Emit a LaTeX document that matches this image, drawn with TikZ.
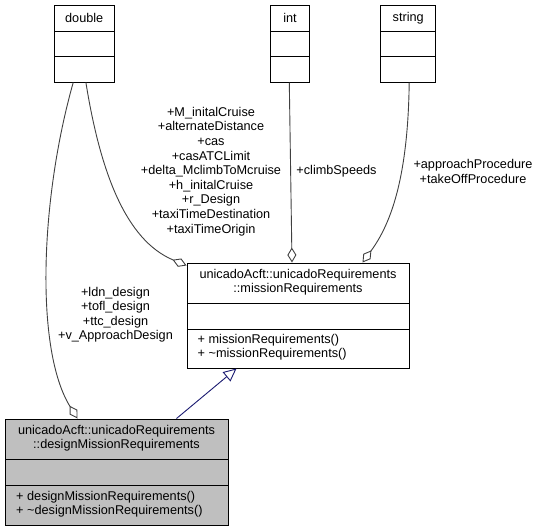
\documentclass[tikz,border=0pt]{standalone}
\usepackage{fontspec}
\setmainfont{Liberation Sans}
\usetikzlibrary{arrows.meta}
\definecolor{edgegray}{HTML}{404040}
\definecolor{inhblue}{HTML}{191970}
\definecolor{boxgray}{HTML}{BFBFBF}
\newcommand\dfont{\fontsize{12.7}{14.3}\selectfont}
\newcommand\lfont{\fontsize{12.7}{14.6}\selectfont}
\begin{document}
\begin{tikzpicture}[x=1pt,y=-1pt,
  box/.style={draw=black, line width=1pt, inner sep=0pt, fill=white},
  sep/.style={draw=black, line width=1pt},
  ttl/.style={font=\dfont, align=center, inner sep=0pt},
  lbl/.style={font=\lfont, align=center, inner sep=0pt},
  mth/.style={font=\dfont, align=left, anchor=west, inner sep=0pt},
  usage/.style={draw=edgegray, line width=0.9pt, -{Diamond[open, length=15pt, width=9pt, line width=0.9pt]}},
  inh/.style={draw=inhblue, line width=0.9pt, -{Triangle[open, length=13pt, width=12pt, line width=0.9pt]}}]
\useasboundingbox (0,0) rectangle (541,531);

% double
\node[box, minimum width=59.7pt, minimum height=76.7pt] (double) at (84.2,43.7) {};
\draw[sep] (54.3,31.3) -- (114,31.3) (54.3,56.7) -- (114,56.7);
\node[ttl] (doublet) at (84.2,18.3) {double};

% int
\node[box, minimum width=38.6pt, minimum height=76.7pt] (int) at (290,43.7) {};
\draw[sep] (270.7,31.3) -- (309.3,31.3) (270.7,56.7) -- (309.3,56.7);
\node[ttl] (intt) at (290,18.3) {int};

% string
\node[box, minimum width=55pt, minimum height=76.7pt] (string) at (408.2,43.7) {};
\draw[sep] (380.7,31.3) -- (435.7,31.3) (380.7,56.7) -- (435.7,56.7);
\node[ttl] (stringt) at (408.2,18.3) {string};

% missionRequirements
\node[box, minimum width=222pt, minimum height=105pt] (mission) at (298,315.5) {};
\draw[sep] (187,303) -- (409,303) (187,329) -- (409,329);
\node[ttl] (missiont) at (298,282.5) {unicadoAcft::unicadoRequirements\\::missionRequirements};
\node[mth] (missionm) at (197.5,347.5) {+ missionRequirements()\\+ \textasciitilde missionRequirements()};

% designMissionRequirements
\node[box, fill=boxgray, minimum width=223pt, minimum height=106pt] (design) at (116.5,472) {};
\draw[sep] (5,459) -- (228,459) (5,485) -- (228,485);
\node[ttl] (designt) at (116.5,438.5) {unicadoAcft::unicadoRequirements\\::designMissionRequirements};
\node[mth] (designm) at (16,504) {+ designMissionRequirements()\\+ \textasciitilde designMissionRequirements()};

% labels
\node[lbl] (l1) at (211,171.5) {+M\_initalCruise\\+alternateDistance\\+cas\\+casATCLimit\\+delta\_MclimbToMcruise\\+h\_initalCruise\\+r\_Design\\+taxiTimeDestination\\+taxiTimeOrigin};
\node[lbl] (l2) at (336.5,171) {+climbSpeeds};
\node[lbl] (l3) at (473,171.5) {+approachProcedure\\+takeOffProcedure};
\node[lbl] (l4) at (115.5,314.8) {+ldn\_design\\+tofl\_design\\+ttc\_design\\+v\_ApproachDesign};

% connectors
\draw[usage] ([xshift=1.7pt]double.south) .. controls (100,170) and (125,240) .. ([yshift=-3pt]mission.north west);
\draw[usage] ([xshift=-11pt]double.south) .. controls (40,200) and (35,350) .. ([xshift=73pt]design.north west);
\draw[usage] ([xshift=-0.7pt]int.south) -- ([xshift=-6pt]mission.north);
\draw[usage] ([xshift=1pt]string.south) .. controls (408,180) and (390,225) .. ([xshift=176pt]mission.north west);
\draw[inh] ([xshift=172pt]design.north west) -- ([xshift=50pt]mission.south west);
\end{tikzpicture}
\end{document}
